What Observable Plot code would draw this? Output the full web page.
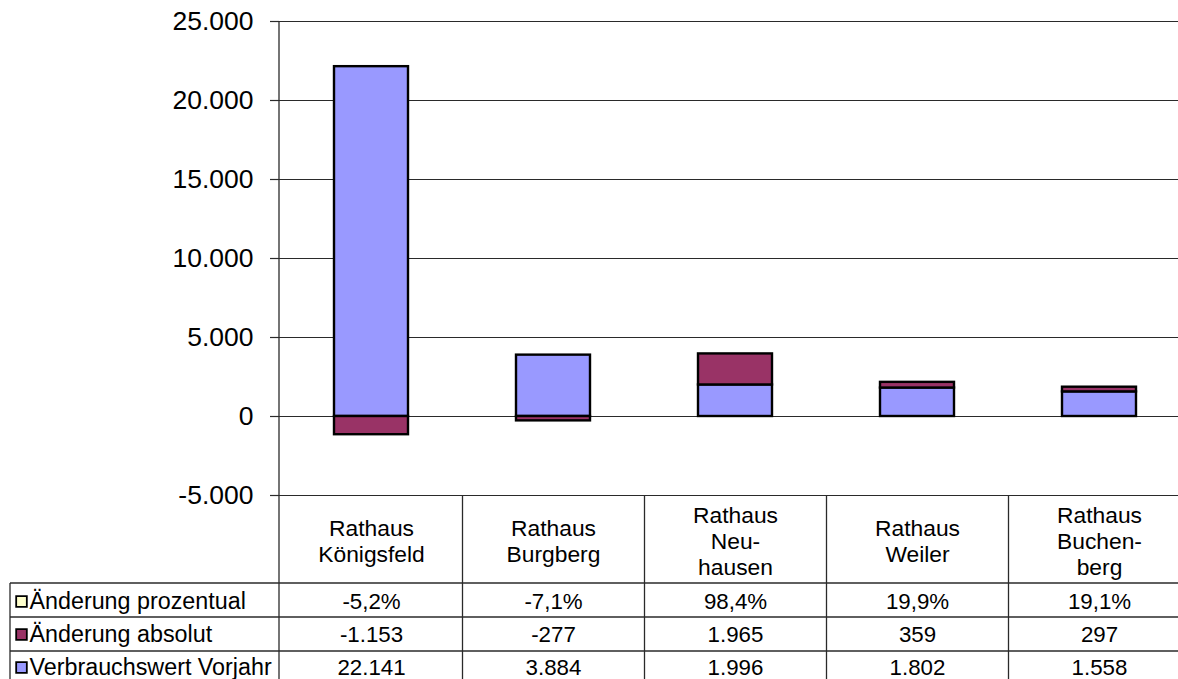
<!DOCTYPE html>
<html>
<head>
<meta charset="utf-8">
<script src="https://cdn.jsdelivr.net/npm/d3@7"></script>
<script src="https://cdn.jsdelivr.net/npm/@observablehq/plot@0.6"></script>
<style>
  html, body { margin: 0; padding: 0; background: #fff; }
  #chart { width: 1178px; height: 679px; overflow: hidden; }
</style>
</head>
<body>
<div id="chart"></div>
<script>
// ---- data ----
const categories = ["Rathaus Königsfeld", "Rathaus Burgberg", "Rathaus Neuhausen", "Rathaus Weiler", "Rathaus Buchenberg"];
const categoryLabels = ["Rathaus\nKönigsfeld", "Rathaus\nBurgberg", "Rathaus\nNeu-\nhausen", "Rathaus\nWeiler", "Rathaus\nBuchen-\nberg"];
const aenderungProzentual = [-5.2, -7.1, 98.4, 19.9, 19.1];
const aenderungAbsolut = [-1153, -277, 1965, 359, 297];
const verbrauchVorjahr = [22141, 3884, 1996, 1802, 1558];
const seriesNames = ["Änderung prozentual", "Änderung absolut", "Verbrauchswert Vorjahr"];
const seriesColors = ["#FFFFCC", "#993366", "#9999FF"];
const yTicks = [-5000, 0, 5000, 10000, 15000, 20000, 25000];

// ---- formatting (German) ----
const de = d3.formatLocale({decimal: ",", thousands: ".", grouping: [3], currency: ["", " €"], minus: "-"});
const fmtInt = de.format(",d");
const fmtPct = v => de.format(",.1f")(v) + "%";

// stacked bar table (Vorjahr at the bottom, change on top / below zero)
const barData = [];
categories.forEach((c, i) => barData.push({category: c, series: seriesNames[2], value: verbrauchVorjahr[i]}));
categories.forEach((c, i) => barData.push({category: c, series: seriesNames[1], value: aenderungAbsolut[i]}));

// table rows (top to bottom as in the reference)
const tableRows = [
  {name: seriesNames[0], color: seriesColors[0], values: aenderungProzentual.map(fmtPct)},
  {name: seriesNames[1], color: seriesColors[1], values: aenderungAbsolut.map(fmtInt)},
  {name: seriesNames[2], color: seriesColors[2], values: verbrauchVorjahr.map(fmtInt)}
];

// ---- layout constants ----
const W = 1178, H = 679;
const mLeft = 279, mTop = 21, mBottom = 184;
const headerCenter = 45;          // below frame bottom
const rowCenters = [106, 139, 172];
const rowLines = [88, 122, 156];
const legendLeft = 10;
const lineColor = "#2a2a2a";

function tableGrid(index, scales, values, dimensions) {
  const {width, height, marginBottom, marginTop, marginLeft} = dimensions;
  const base = height - marginBottom;
  const g = d3.create("svg:g").attr("fill", "none").attr("stroke", lineColor).attr("stroke-width", 1.3);
  // y-axis line continuing through the table
  g.append("line").attr("x1", marginLeft).attr("x2", marginLeft).attr("y1", marginTop).attr("y2", height);
  // column separators
  categories.slice(1).forEach(c => {
    const x = Math.round(scales.x(c)) + 0.5;
    g.append("line").attr("x1", x).attr("x2", x).attr("y1", base).attr("y2", height);
  });
  // legend column left border
  g.append("line").attr("x1", legendLeft).attr("x2", legendLeft).attr("y1", base + rowLines[0]).attr("y2", height);
  // row lines
  rowLines.forEach(off => {
    g.append("line").attr("x1", legendLeft).attr("x2", width).attr("y1", base + off).attr("y2", base + off);
  });
  return g.node();
}

const marks = [
  Plot.ruleY(yTicks, {stroke: lineColor, strokeWidth: 1.2}),
  Plot.barY(barData, {
    x: "category", y: "value", fill: "series",
    stroke: "#000", strokeWidth: 2.4, insetLeft: 54, insetRight: 54
  }),
  Plot.axisY({
    ticks: yTicks, tickFormat: fmtInt, tickSize: 9, tickPadding: 17,
    fontSize: 26.5, stroke: lineColor, strokeWidth: 1.2, color: "#000"
  }),
  tableGrid,
  Plot.text(categories, {
    x: d => d, text: (d, i) => categoryLabels[i], frameAnchor: "bottom",
    dy: headerCenter, lineAnchor: "middle", lineHeight: 1.15, fontSize: 22.8, fill: "#000"
  })
];

tableRows.forEach((row, r) => {
  marks.push(Plot.text(categories, {
    x: d => d, text: (d, i) => row.values[i], frameAnchor: "bottom",
    dy: rowCenters[r], lineAnchor: "middle", fontSize: 22.3, fill: "#000"
  }));
  marks.push(Plot.dot([row.name], {
    frameAnchor: "bottom-left", dx: 21 - mLeft, dy: rowCenters[r],
    symbol: "square", r: 6.0, fill: row.color, stroke: "#000", strokeWidth: 1.8
  }));
  marks.push(Plot.text([row.name], {
    text: d => d, frameAnchor: "bottom-left", dx: 29 - mLeft, dy: rowCenters[r],
    textAnchor: "start", lineAnchor: "middle", fontSize: 23.3, fill: "#000"
  }));
});

const chart = Plot.plot({
  width: W, height: H,
  marginLeft: mLeft, marginRight: 0, marginTop: mTop, marginBottom: mBottom,
  style: {fontFamily: "'Liberation Sans', Arial, sans-serif", background: "#fff", color: "#000", overflow: "visible"},
  x: {domain: categories, range: [mLeft, 1191], padding: 0, axis: null},
  y: {domain: [-5000, 25000], axis: null, label: null},
  color: {domain: seriesNames, range: seriesColors},
  marks
});
document.getElementById("chart").appendChild(chart);
</script>
</body>
</html>
